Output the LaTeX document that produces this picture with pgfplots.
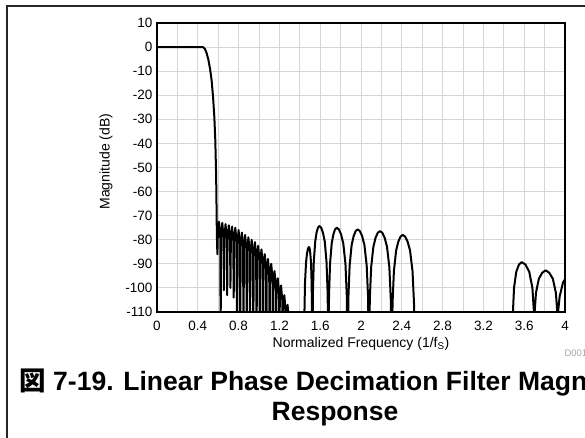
\documentclass[border=0pt]{standalone}
\usepackage{pgfplots}
\pgfplotsset{compat=1.18}
\usepackage{fontspec}
\setmainfont{Liberation Sans}
\newfontfamily\cjk{Noto Sans CJK JP}

\definecolor{gridgray}{RGB}{214,214,214}

\begin{document}
\begin{tikzpicture}[x=1pt,y=1pt]
\useasboundingbox (0,0) rectangle (585,438);
\clip (0,0) rectangle (585,438);
% page frame
\draw[line width=1.3pt, black!85] (7,0) -- (7,432) -- (586,432);

\begin{axis}[
    at={(157pt,126pt)}, anchor=south west,
    scale only axis,
    width=408pt, height=289pt,
    xmin=0, xmax=4, ymin=-110, ymax=10,
    xtick={0,0.4,0.8,1.2,1.6,2,2.4,2.8,3.2,3.6,4},
    xticklabels={0,0.4,0.8,1.2,1.6,2,2.4,2.8,3.2,3.6,4},
    minor xtick={0.2,0.6,1,1.4,1.8,2.2,2.6,3,3.4,3.8},
    ytick={-110,-100,-90,-80,-70,-60,-50,-40,-30,-20,-10,0,10},
    yticklabels={-110,-100,-90,-80,-70,-60,-50,-40,-30,-20,-10,0,10},
    grid=both,
    major grid style={gridgray, line width=0.9pt},
    minor grid style={gridgray, line width=0.9pt},
    tick style={draw=none},
    axis line style={line width=1.3pt, black},
    tick label style={font=\fontsize{13.5}{15}\selectfont},
    xticklabel style={yshift=-6pt},
    yticklabel style={xshift=-1pt},
    label style={font=\fontsize{14}{16}\selectfont},
    xlabel={Normalized Frequency (1/f\textsubscript{S})},
    ylabel={Magnitude (dB)},
    xlabel style={at={(axis description cs:0.5,-0.11)}, anchor=center},
    ylabel style={at={(axis description cs:-0.125,0.52)}, anchor=center},
]
\addplot[black, line width=2pt, line join=round] coordinates {
(0,0) (0.44,0) (0.455,-0.1) (0.47,-0.8) (0.485,-2.3) (0.503,-5.1) (0.52,-9)
(0.536,-14) (0.55,-21) (0.562,-29) (0.571,-38) (0.578,-50) (0.582,-60)
(0.585,-72) (0.588,-80) (0.592,-86)
(0.596,-78.5) (0.608,-72.5) (0.620,-78.5) (0.624,-118)
(0.628,-79) (0.640,-73) (0.652,-79) (0.656,-101)
(0.660,-79.5) (0.672,-73.5) (0.684,-79.5) (0.688,-103)
(0.692,-80) (0.704,-74) (0.716,-80) (0.720,-100)
(0.724,-80.5) (0.736,-74.5) (0.748,-80.5) (0.752,-104)
(0.756,-81) (0.768,-75) (0.780,-81) (0.784,-125)
(0.788,-82) (0.800,-76) (0.812,-82) (0.816,-125)
(0.820,-83) (0.832,-77) (0.844,-83) (0.848,-125)
(0.852,-84) (0.864,-78) (0.876,-84) (0.880,-125)
(0.884,-85) (0.896,-79) (0.908,-85) (0.912,-125)
(0.916,-86) (0.928,-80) (0.940,-86) (0.944,-125)
(0.948,-87) (0.960,-81) (0.972,-87) (0.976,-125)
(0.980,-88.5) (0.992,-82.5) (1.004,-88.5) (1.008,-125)
(1.012,-90) (1.024,-84) (1.036,-90) (1.040,-125)
(1.044,-92) (1.056,-86) (1.068,-92) (1.072,-125)
(1.076,-94) (1.088,-88) (1.100,-94) (1.104,-125)
(1.108,-96) (1.120,-90) (1.132,-96) (1.136,-125)
(1.140,-99) (1.152,-93) (1.164,-99) (1.168,-125)
(1.172,-102) (1.184,-96) (1.196,-102) (1.200,-125)
(1.204,-105) (1.216,-99) (1.228,-105) (1.232,-125)
(1.236,-109) (1.248,-103) (1.260,-109) (1.264,-125)
(1.268,-113) (1.280,-107) (1.292,-113) (1.296,-125)
(1.441,-130)
(1.445,-111) (1.451,-98) (1.461,-89.5) (1.470,-85.8) (1.480,-83.7) (1.490,-83)
(1.497,-83.7) (1.503,-85.8) (1.510,-89.5) (1.516,-98) (1.520,-111) (1.523,-130)
(1.5285,-102.3) (1.537,-89.3) (1.551,-80.8) (1.564,-77.1) (1.578,-75.0) (1.592,-74.3)
(1.6096,-75.0) (1.627,-77.1) (1.645,-80.8) (1.662,-89.3) (1.673,-102.3) (1.680,-130)
(1.6866,-103) (1.6964,-90) (1.7128,-81.5) (1.7292,-77.8) (1.7456,-75.7) (1.762,-75)
(1.7834,-75.7) (1.8048,-77.8) (1.8262,-81.5) (1.8476,-90) (1.8604,-103) (1.869,-130)
(1.8768,-103.7) (1.8886,-90.7) (1.9082,-82.2) (1.9278,-78.5) (1.9474,-76.4) (1.967,-75.7)
(1.9892,-76.4) (2.0114,-78.5) (2.0336,-82.2) (2.0558,-90.7) (2.0691,-103.7) (2.078,-130)
(2.0866,-104.4) (2.0996,-91.4) (2.1212,-82.9) (2.1428,-79.2) (2.1644,-77.1) (2.186,-76.4)
(2.209,-77.1) (2.232,-79.2) (2.255,-82.9) (2.278,-91.4) (2.2918,-104.4) (2.301,-130)
(2.3096,-106) (2.3226,-93) (2.3442,-84.5) (2.3658,-80.8) (2.3874,-78.7) (2.409,-78)
(2.433,-78.7) (2.457,-80.8) (2.481,-84.5) (2.505,-93) (2.5194,-106) (2.529,-130)
(3.487,-130)
(3.4896,-110) (3.5002,-100) (3.5222,-93.3) (3.5486,-90.3) (3.575,-89.3)
(3.6122,-90.3) (3.6494,-93.3) (3.6804,-100) (3.6953,-110) (3.699,-130)
(3.7023,-110) (3.7157,-102) (3.7434,-96.2) (3.7767,-93.7) (3.81,-92.7)
(3.8454,-93.7) (3.8808,-96.2) (3.9103,-102) (3.9245,-110) (3.928,-130)
(3.932,-110) (3.9478,-103.5) (3.9808,-97.7) (4.0204,-95) (4.06,-94)
};
\end{axis}

\node[anchor=base west, text=black!35, font=\fontsize{9.5}{11}\selectfont] at (561,81) {D001};
\node[anchor=base, font=\bfseries\fontsize{26.5}{30}\selectfont] at (335,47)
  {{\cjk 図} 7-19. Linear Phase Decimation Filter Magnitude};
\node[anchor=base, font=\bfseries\fontsize{26.5}{30}\selectfont] at (335,17) {Response};
\end{tikzpicture}
\end{document}
